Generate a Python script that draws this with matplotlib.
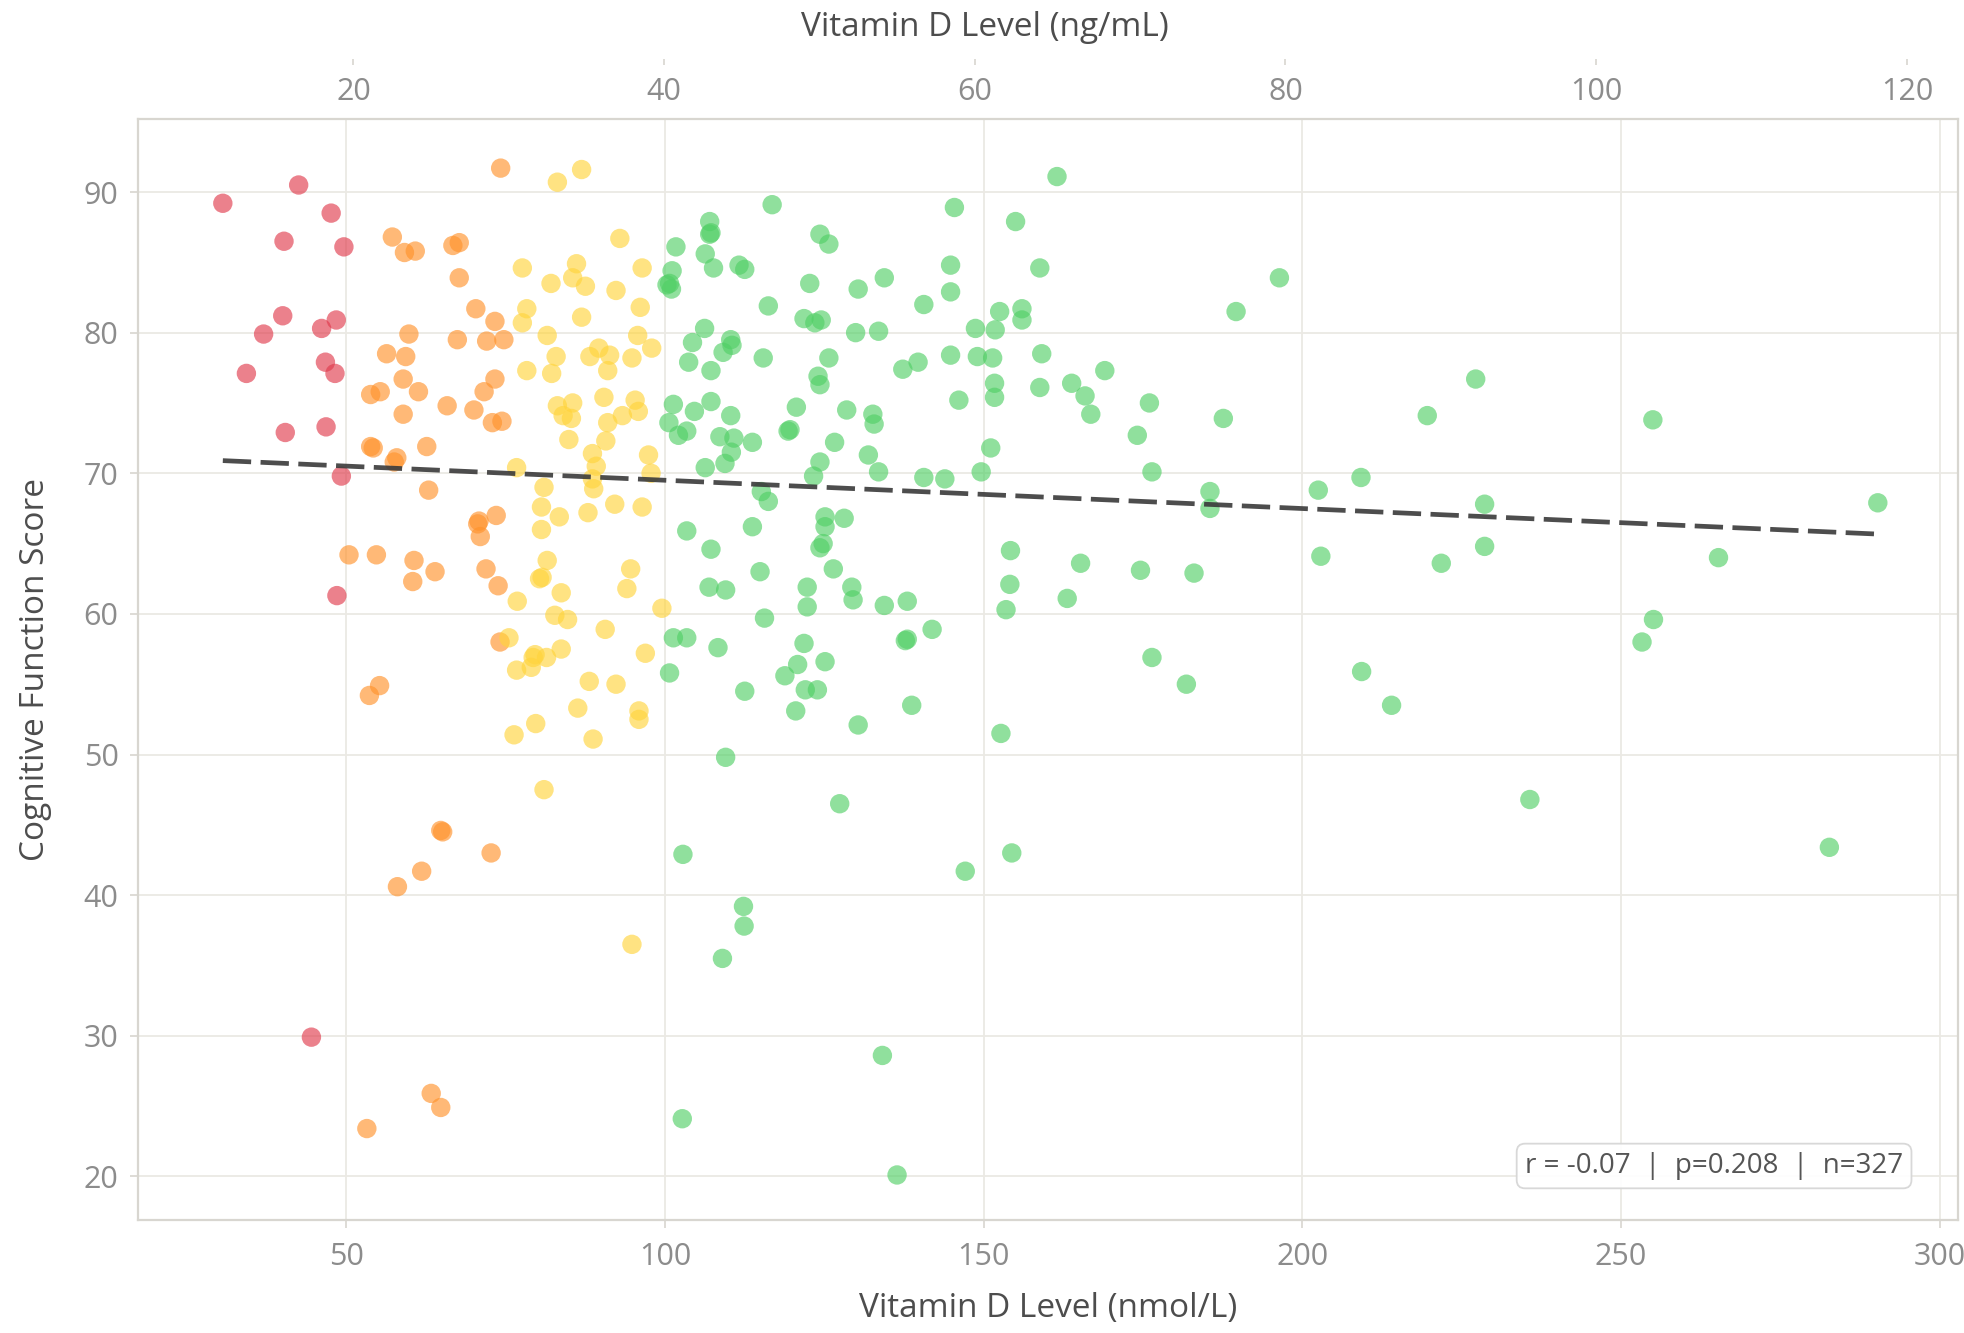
import numpy as np
import matplotlib
matplotlib.use("Agg")
import matplotlib.pyplot as plt

plt.rcParams['font.family'] = ['Open Sans', 'DejaVu Sans']

# ---------------- data (Vitamin D nmol/L, Cognitive Function Score) ----------------
deficient_x = [30.6, 42.5, 47.6, 40.2, 49.6, 40.0, 37.0, 46.1, 48.4, 34.3, 46.7, 48.2,
               40.4, 46.8, 49.2, 48.5, 44.5]
deficient_y = [89.2, 90.5, 88.5, 86.5, 86.1, 81.2, 79.9, 80.3, 80.9, 77.1, 77.9, 77.1,
               72.9, 73.3, 69.8, 61.3, 29.9]

insufficient_x = [74.2, 57.2, 59.1, 60.8, 66.7, 67.7, 67.7, 70.3, 73.3, 59.8, 67.4, 72.0,
                  74.7, 56.3, 59.3, 58.9, 61.3, 53.8, 55.3, 65.8, 73.3, 71.6, 70.0, 58.9,
                  72.9, 74.4, 53.8, 54.2, 62.6, 57.9, 57.5, 62.9, 70.8, 70.6, 73.5, 71.0,
                  50.4, 54.7, 60.6, 63.9, 60.4, 71.9, 73.8, 74.1, 53.6, 55.2, 65.1, 64.8,
                  72.7, 61.8, 58.0, 63.3, 64.8, 53.2]
insufficient_y = [91.7, 86.8, 85.7, 85.8, 86.2, 86.4, 83.9, 81.7, 80.8, 79.9, 79.5, 79.4,
                  79.5, 78.5, 78.3, 76.7, 75.8, 75.6, 75.8, 74.8, 76.7, 75.8, 74.5, 74.2,
                  73.6, 73.7, 71.9, 71.8, 71.9, 71.1, 70.8, 68.8, 66.6, 66.4, 67.0, 65.5,
                  64.2, 64.2, 63.8, 63.0, 62.3, 63.2, 62.0, 58.0, 54.2, 54.9, 44.5, 44.6,
                  43.0, 41.7, 40.6, 25.9, 24.9, 23.4]

adequate_x = [83.1, 86.9, 92.9, 77.6, 82.1, 86.1, 85.5, 87.5, 92.3, 78.3, 77.6, 86.9,
              81.5, 82.9, 78.3, 82.2, 88.2, 89.6, 91.3, 91.0, 90.4, 83.1, 85.5, 85.3,
              84.0, 91.0, 84.9, 90.7, 88.6, 89.2, 76.7, 88.6, 88.8, 81.0, 92.1, 80.6,
              83.4, 87.9, 80.6, 96.4, 96.1, 95.7, 97.9, 94.8, 95.3, 95.8, 93.3, 97.4,
              97.8, 96.4, 81.5, 80.3, 80.7, 83.7, 76.8, 82.7, 84.7, 90.6, 75.5, 79.3,
              79.6, 81.4, 83.7, 76.7, 79.0, 88.1, 92.3, 86.3, 79.7, 76.3, 88.7, 81.0,
              94.6, 94.0, 99.5, 96.9, 95.9, 95.9, 94.8]
adequate_y = [90.7, 91.6, 86.7, 84.6, 83.5, 84.9, 83.9, 83.3, 83.0, 81.7, 80.7, 81.1,
              79.8, 78.3, 77.3, 77.1, 78.3, 78.9, 78.4, 77.3, 75.4, 74.8, 75.0, 73.9,
              74.1, 73.6, 72.4, 72.3, 71.4, 70.5, 70.4, 69.6, 68.9, 69.0, 67.8, 67.6,
              66.9, 67.2, 66.0, 84.6, 81.8, 79.8, 78.9, 78.2, 75.2, 74.4, 74.1, 71.3,
              70.0, 67.6, 63.8, 62.5, 62.6, 61.5, 60.9, 59.9, 59.6, 58.9, 58.3, 56.9,
              57.1, 56.9, 57.5, 56.0, 56.2, 55.2, 55.0, 53.3, 52.2, 51.4, 51.1, 47.5,
              63.2, 61.8, 60.4, 57.2, 53.1, 52.5, 36.5]

sufficient_x = [161.5, 116.8, 145.4, 155.0, 107.0, 107.0, 107.2, 101.7, 106.3, 107.6, 111.6, 112.5,
                124.3, 125.7, 144.8, 158.8, 101.1, 100.3, 100.7, 101.0, 122.7, 130.3, 134.4, 144.8,
                116.2, 140.6, 121.8, 123.5, 124.5, 129.9, 133.5, 148.7, 151.8, 152.5, 156.0, 156.0,
                106.2, 104.3, 110.3, 110.5, 109.1, 103.7, 107.2, 115.4, 125.7, 124.0, 124.3, 137.3,
                139.7, 144.8, 149.0, 151.4, 159.1, 151.7, 151.7, 146.1, 158.8, 101.3, 100.6, 102.1,
                103.4, 104.6, 107.2, 110.3, 108.6, 110.8, 110.4, 109.4, 113.7, 120.6, 119.3, 119.6,
                128.5, 132.6, 132.8, 126.6, 124.3, 123.3, 131.9, 133.5, 151.1, 149.6, 140.6, 143.9,
                106.3, 115.1, 116.2, 125.1, 125.1, 128.1, 103.4, 113.7, 163.8,
                124.3, 124.8, 107.2, 114.9, 126.4, 106.9, 109.5, 122.3, 122.3, 129.3, 129.5, 134.4,
                138.0, 154.2, 154.1, 153.5, 115.6, 101.3, 103.4, 108.3, 100.7, 121.8, 120.8, 125.1,
                118.8, 122.0, 123.9, 112.5, 120.5, 130.3, 138.0, 137.7, 141.9, 138.7, 152.7, 109.5,
                127.4, 102.8, 147.1, 154.4, 112.3, 112.4,
                196.4, 189.6, 169.0, 165.9, 166.8, 176.0, 174.1, 187.6, 176.4, 185.5, 185.5, 202.5,
                209.2, 219.6, 227.2, 228.6,
                165.2, 163.1, 174.6, 183.0, 202.9, 221.8, 228.6, 176.4, 181.8, 209.3, 214.0, 235.7,
                255.0, 290.3, 265.3, 255.1, 253.3, 282.7,
                109.0, 134.1, 102.7, 136.4]
sufficient_y = [91.1, 89.1, 88.9, 87.9, 87.9, 87.0, 87.1, 86.1, 85.6, 84.6, 84.8, 84.5,
                87.0, 86.3, 84.8, 84.6, 84.4, 83.4, 83.5, 83.1, 83.5, 83.1, 83.9, 82.9,
                81.9, 82.0, 81.0, 80.7, 80.9, 80.0, 80.1, 80.3, 80.2, 81.5, 81.7, 80.9,
                80.3, 79.3, 79.5, 79.1, 78.6, 77.9, 77.3, 78.2, 78.2, 76.9, 76.3, 77.4,
                77.9, 78.4, 78.3, 78.2, 78.5, 76.4, 75.4, 75.2, 76.1, 74.9, 73.6, 72.7,
                73.0, 74.4, 75.1, 74.1, 72.6, 72.5, 71.5, 70.7, 72.2, 74.7, 73.0, 73.1,
                74.5, 74.2, 73.5, 72.2, 70.8, 69.8, 71.3, 70.1, 71.8, 70.1, 69.7, 69.6,
                70.4, 68.7, 68.0, 66.9, 66.2, 66.8, 65.9, 66.2, 76.4,
                64.7, 65.0, 64.6, 63.0, 63.2, 61.9, 61.7, 61.9, 60.5, 61.9, 61.0, 60.6,
                60.9, 64.5, 62.1, 60.3, 59.7, 58.3, 58.3, 57.6, 55.8, 57.9, 56.4, 56.6,
                55.6, 54.6, 54.6, 54.5, 53.1, 52.1, 58.2, 58.1, 58.9, 53.5, 51.5, 49.8,
                46.5, 42.9, 41.7, 43.0, 39.2, 37.8,
                83.9, 81.5, 77.3, 75.5, 74.2, 75.0, 72.7, 73.9, 70.1, 68.7, 67.5, 68.8,
                69.7, 74.1, 76.7, 67.8,
                63.6, 61.1, 63.1, 62.9, 64.1, 63.6, 64.8, 56.9, 55.0, 55.9, 53.5, 46.8,
                73.8, 67.9, 64.0, 59.6, 58.0, 43.4,
                35.5, 28.6, 24.1, 20.1]

groups = [
    (deficient_x, deficient_y, '#e03a4c'),
    (insufficient_x, insufficient_y, '#ff922b'),
    (adequate_x, adequate_y, '#ffd43b'),
    (sufficient_x, sufficient_y, '#51cf66'),
]

x_ticks = [50, 100, 150, 200, 250, 300]
y_ticks = [20, 30, 40, 50, 60, 70, 80, 90]
top_ticks = [20, 40, 60, 80, 100, 120]
stats_text = "r = -0.07  |  p=0.208  |  n=327"

# ---------------- figure ----------------
fig = plt.figure(figsize=(19.64, 13.33), dpi=100)
ax = fig.add_axes([0.0703, 0.0848, 0.9267, 0.8260])

grid_c = '#ebe9e4'
spine_c = '#d8d6d0'
tick_lab_c = '#8c8c8c'
label_c = '#4d4d4d'

for gx, gy, col in groups:
    ax.scatter(gx, gy, s=195, color=col, alpha=0.64, edgecolors='none',
               linewidths=0, zorder=2)

all_x = np.concatenate([np.asarray(g[0]) for g in groups])
all_y = np.concatenate([np.asarray(g[1]) for g in groups])
slope, intercept = np.polyfit(all_x, all_y, 1)
lx = np.array([all_x.min(), all_x.max()])
ax.plot(lx, slope * lx + intercept, color='#3a3a3a', lw=3.4, alpha=0.9,
        linestyle=(0, (6, 2)), zorder=3)

ax.set_xlim(17.3, 302.9)
ax.set_ylim(16.9, 95.2)
ax.set_xticks(x_ticks)
ax.set_yticks(y_ticks)
ax.grid(True, color=grid_c, lw=1.3, zorder=0)
ax.set_axisbelow(True)
for s in ax.spines.values():
    s.set_color(spine_c)
    s.set_linewidth(1.6)
ax.tick_params(axis='both', colors=spine_c, labelcolor=tick_lab_c, labelsize=22,
               length=6, width=1.2)
ax.tick_params(axis='y', pad=8)
ax.tick_params(axis='x', pad=10)

# top (ng/mL) axis
ax2 = ax.twiny()
ax2.set_xlim(6.14, 123.3)
ax2.set_xticks(top_ticks)
for s in ax2.spines.values():
    s.set_visible(False)
ax2.spines['top'].set_position(('outward', 43.2))
ax2.tick_params(axis='x', direction='in', length=4.5, width=1.2, colors=spine_c,
                labelcolor=tick_lab_c, labelsize=22, pad=-34.6)
ax2.grid(False)

# labels
ax.text(0.5, -0.0808, "Vitamin D Level (nmol/L)", transform=ax.transAxes,
        ha='center', va='center', fontsize=24, color=label_c)
ax.text(0.4654, 1.0827, "Vitamin D Level (ng/mL)", transform=ax.transAxes,
        ha='center', va='center', fontsize=24, color=label_c)
ax.text(-0.0566, 0.5, "Cognitive Function Score", transform=ax.transAxes,
        ha='center', va='center', rotation=90, fontsize=24, color=label_c)

ax.text(0.9698, 0.0363, stats_text, transform=ax.transAxes, ha='right', va='bottom',
        fontsize=20, color='#555555', zorder=5,
        bbox=dict(boxstyle='round,pad=0.3', fc='white', ec='#d6d6d6', lw=1.3, alpha=0.95))

fig.savefig("out.png", dpi=100, facecolor='white')
